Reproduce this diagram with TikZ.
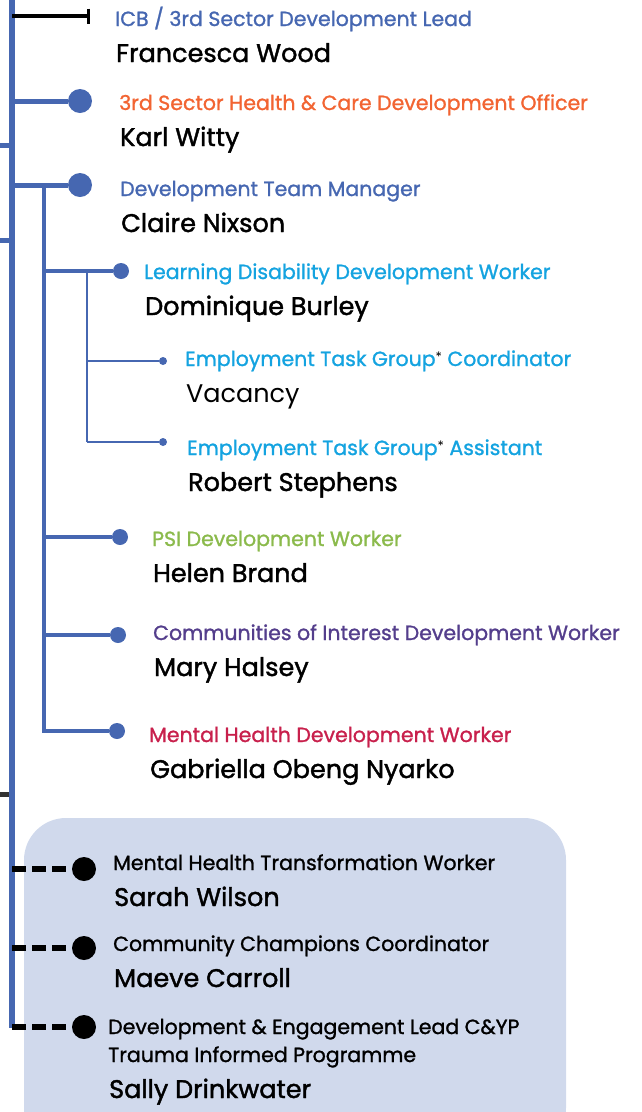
\documentclass[tikz,border=0pt]{standalone}
\usepackage{fontspec}
\setmainfont{Poppins}
\newfontfamily\rolefont{Poppins}[FakeBold=1.2]
\newfontfamily\namefont{Poppins}[FakeBold=1.6]
\usepackage{xcolor}
\usetikzlibrary{arrows.meta,positioning}

\definecolor{orgblue}{RGB}{70,103,177}
\definecolor{orgorange}{RGB}{242,100,50}
\definecolor{orgsky}{RGB}{20,163,224}
\definecolor{orggreen}{RGB}{139,186,76}
\definecolor{orgpurple}{RGB}{84,62,140}
\definecolor{orgred}{RGB}{200,32,76}
\definecolor{boxfill}{RGB}{208,217,236}
\definecolor{stubgray}{RGB}{50,50,50}

\newcommand{\taskstar}{\raisebox{5pt}{\normalfont\fontsize{13}{13}\selectfont\textcolor{black}{*}}}

\begin{document}
\begin{tikzpicture}[x=1pt, y=-1pt,
    spine/.style={draw=orgblue, line width=6pt},
    blueline/.style={draw=orgblue, line width=5pt},
    midline/.style={draw=orgblue, line width=4pt},
    thinline/.style={draw=orgblue, line width=2pt},
    dashline/.style={draw=black, line width=6pt, dash pattern=on 14pt off 6pt},
    bigdot/.style={circle, fill=orgblue, inner sep=0pt, minimum size=24pt},
    middot/.style={circle, fill=orgblue, inner sep=0pt, minimum size=16pt},
    smalldot/.style={circle, fill=orgblue, inner sep=0pt, minimum size=8pt},
    blackdot/.style={circle, fill=black, inner sep=0pt, minimum size=24pt},
    role/.style={anchor=base west, inner sep=0pt, font=\rolefont\fontsize{20.5}{24}\selectfont},
    person/.style={anchor=base west, inner sep=0pt, font=\namefont\fontsize{25.5}{30}\selectfont},
    namebelow/.style={below right=36pt and 1pt of #1.base west, anchor=base west}
]
    \useasboundingbox (0,0) rectangle (641,1112);

    % shaded group at the bottom
    \fill[boxfill, rounded corners=42pt] (24,818) rectangle (566,1150);

    % main spine and incoming stubs
    \coordinate (sp) at (12,0);
    \coordinate (spend) at (12,1028);
    \coordinate (in1) at (0,145);
    \coordinate (in2) at (0,240);
    \coordinate (in3) at (0,794);
    \draw[blueline] (in1) -- (in1 -| sp);
    \draw[blueline] (in2) -- (in2 -| sp);
    \draw[draw=stubgray, line width=5pt] (in3) -- (in3 -| sp);
    \draw[spine] (sp) -- (spend);

    % direct reports
    \coordinate (e1) at (90,16);
    \draw[black, line width=4pt, -{Bar[width=15pt, line width=3pt]}] (e1 -| sp) -- (e1);
    \node[bigdot] (d2) at (80,101) {};
    \draw[blueline] (d2 -| sp) -- (d2);
    \node[bigdot] (d3) at (80,185) {};
    \draw[blueline] (d3 -| sp) -- (d3);

    \node[role, text=orgblue] (t1) at (115,26) {ICB / 3rd Sector Development Lead};
    \node[person, namebelow=t1] (n1) {Francesca Wood};
    \node[role, text=orgorange] (t2) at (119,110) {3rd Sector Health \& Care Development Officer};
    \node[person, namebelow=t2] (n2) {Karl Witty};
    \node[role, text=orgblue] (t3) at (120,196) {Development Team Manager};
    \node[person, namebelow=t3] (n3) {Claire Nixson};

    % development team
    \coordinate (sp2) at (44,185);
    \coordinate (sp2end) at (44,733);
    \draw[midline] (sp2) -- (sp2end);
    \node[middot] (d4) at (121,271) {};
    \draw[midline] (d4 -| sp2) -- (d4);
    \node[middot] (d7) at (120,537) {};
    \draw[midline] (d7 -| sp2) -- (d7);
    \node[middot] (d8) at (118,635) {};
    \draw[midline] (d8 -| sp2) -- (d8);
    \node[middot] (d9) at (117,731) {};
    \draw[midline] (d9 -| sp2) -- (d9);

    \node[role, text=orgsky] (t4) at (144,279) {Learning Disability Development Worker};
    \node[person, namebelow=t4] (n4) {Dominique Burley};
    \node[role, text=orggreen] (t7) at (152,546) {PSI Development Worker};
    \node[person, namebelow=t7] (n7) {Helen Brand};
    \node[role, text=orgpurple] (t8) at (153,640) {Communities of Interest Development Worker};
    \node[person, namebelow=t8] (n8) {Mary Halsey};
    \node[role, text=orgred] (t9) at (149,742) {Mental Health Development Worker};
    \node[person, namebelow=t9] (n9) {Gabriella Obeng Nyarko};

    % employment task group
    \coordinate (sp3) at (87,273);
    \coordinate (sp3end) at (87,442);
    \draw[thinline] (sp3) -- (sp3end);
    \node[smalldot] (d5) at (163,361) {};
    \draw[thinline] (d5 -| sp3) -- (d5);
    \node[smalldot] (d6) at (163,442) {};
    \draw[thinline] (d6 -| sp3) -- (d6);

    \node[role, text=orgsky] (t5) at (185,366) {Employment Task Group\taskstar{} Coordinator};
    \node[person, namebelow=t5, font=\normalfont\fontsize{25.5}{30}\selectfont] (n5) {Vacancy};
    \node[role, text=orgsky] (t6) at (187,455) {Employment Task Group\taskstar{} Assistant};
    \node[person, namebelow=t6] (n6) {Robert Stephens};

    % dotted-line reports
    \node[blackdot] (d10) at (84,869) {};
    \draw[dashline] (d10 -| sp) -- (d10);
    \node[blackdot] (d11) at (84,948) {};
    \draw[dashline] (d11 -| sp) -- (d11);
    \node[blackdot] (d12) at (84,1027) {};
    \draw[dashline] (d12 -| sp) -- (d12);

    \node[role] (t10) at (113,870) {Mental Health Transformation Worker};
    \node[person, namebelow=t10] (n10) {Sarah Wilson};
    \node[role] (t11) at (113,951) {Community Champions Coordinator};
    \node[person, namebelow=t11] (n11) {Maeve Carroll};
    \node[role] (t12) at (108,1034) {Development \& Engagement Lead C\&YP};
    \node[role, below right=28pt and 0pt of t12.base west, anchor=base west] (t12b) {Trauma Informed Programme};
    \node[person, namebelow=t12b] (n12) {Sally Drinkwater};
\end{tikzpicture}
\end{document}
